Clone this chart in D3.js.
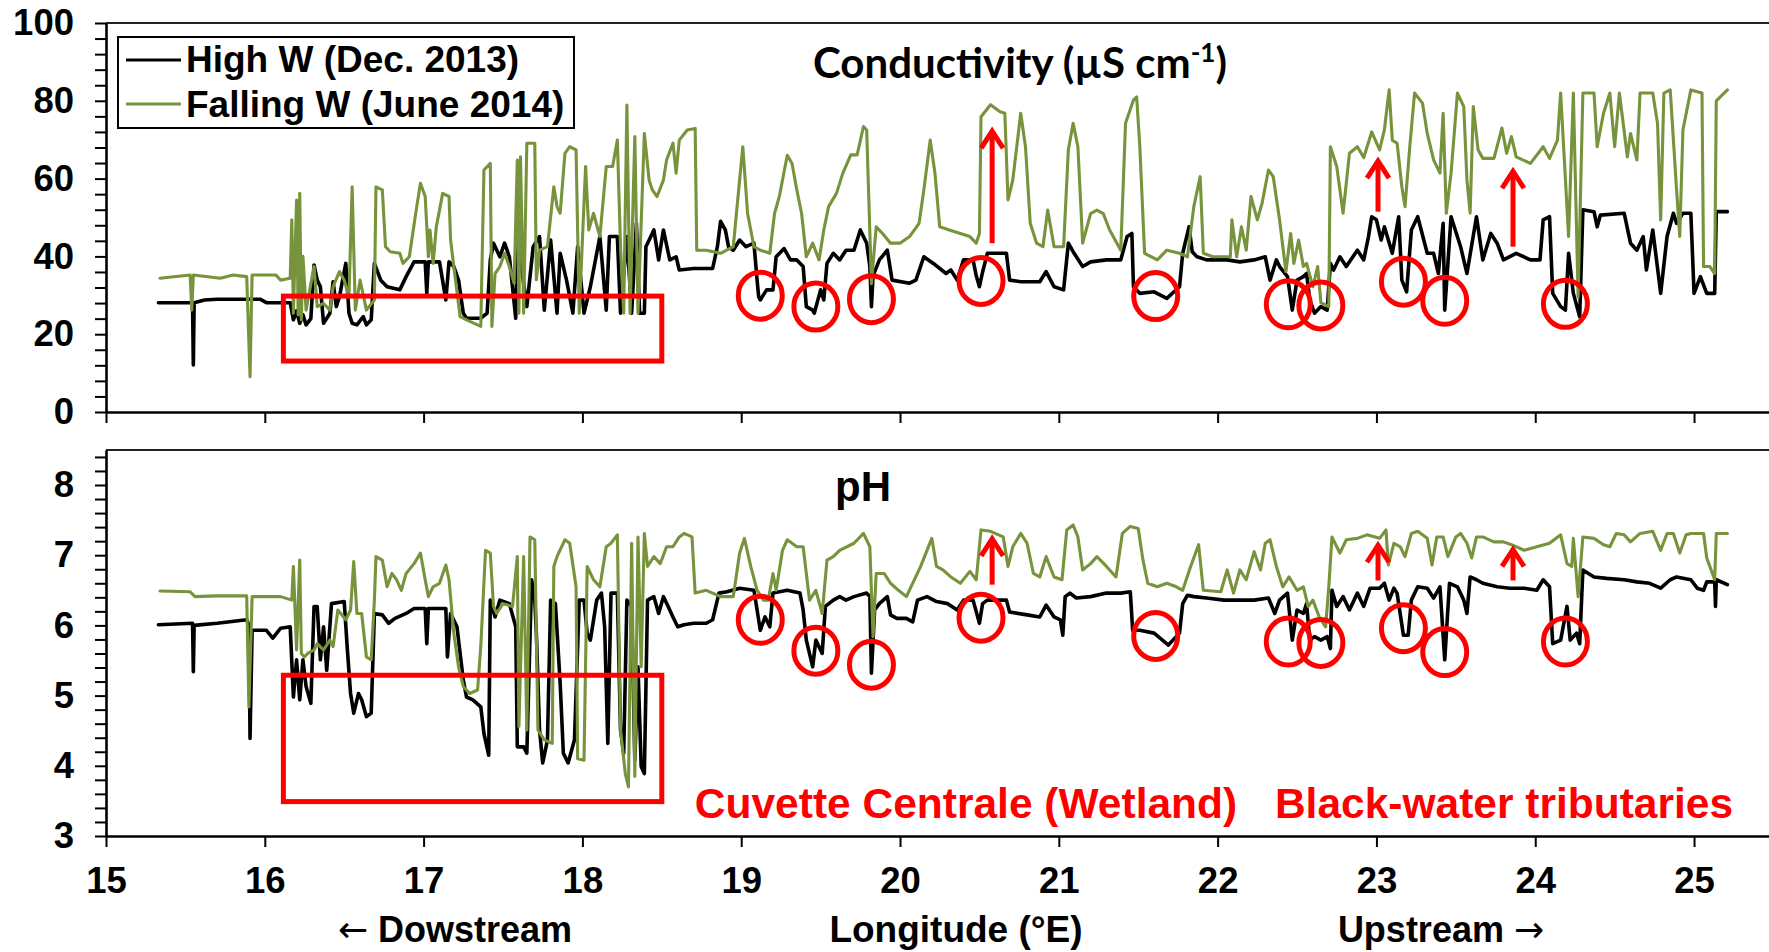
<!DOCTYPE html>
<html><head><meta charset="utf-8">
<script src="https://cdn.jsdelivr.net/npm/d3@7"></script>
<style>body{margin:0;background:#fff}svg{display:block}</style>
</head><body>
<svg id="c" width="1769" height="952"></svg>
<script>
// ---------- data ----------
const lonTicks = [15,16,17,18,19,20,21,22,23,24,25];
const condLabelTicks = [0,20,40,60,80,100];
const phLabelTicks = [3,4,5,6,7,8];
const seriesNames = ["High W (Dec. 2013)", "Falling W (June 2014)"];

const condHigh = [[15.33,28.1],[15.545,28.1],[15.55,12.1],[15.555,28.1],[15.62,28.8],[15.70,29],[15.97,29],[16.01,28.1],[16.16,28.1],[16.18,23.7],[16.20,26],[16.22,22.8],[16.24,25],[16.26,22.4],[16.29,24],[16.31,37.8],[16.33,33.9],[16.35,32.2],[16.37,22.8],[16.41,25.4],[16.43,33.5],[16.45,27.1],[16.47,29.6],[16.51,38.2],[16.53,25.4],[16.55,22.8],[16.58,22.4],[16.62,24.5],[16.64,22.4],[16.67,23.7],[16.69,38.2],[16.73,33.9],[16.77,32.2],[16.85,31.4],[16.89,34.8],[16.94,38.6],[17.01,38.6],[17.02,30.5],[17.03,38.6],[17.10,38.6],[17.14,28.8],[17.16,38.6],[17.19,37.4],[17.22,33.9],[17.25,25.4],[17.27,24.1],[17.36,24.1],[17.40,25.4],[17.42,39.1],[17.44,43.4],[17.48,39.9],[17.51,43.4],[17.54,39.9],[17.58,24.1],[17.59,42.5],[17.61,39],[17.65,27.1],[17.69,42.5],[17.73,45.1],[17.76,26.2],[17.80,44.2],[17.84,25.4],[17.86,40.8],[17.90,33.9],[17.94,25.4],[17.97,42.5],[18.01,25.4],[18.05,32.2],[18.11,45.1],[18.15,26.2],[18.17,45.1],[18.22,45.1],[18.24,25.4],[18.28,45.1],[18.31,25.4],[18.34,48.5],[18.36,25.4],[18.39,25.4],[18.40,42.5],[18.45,46.8],[18.48,39.1],[18.51,46.8],[18.55,39.1],[18.59,39.9],[18.61,36.5],[18.70,36.9],[18.82,36.9],[18.85,42.5],[18.87,49],[18.90,46.8],[18.92,42.5],[18.95,41.6],[18.99,44.2],[19.03,42.5],[19.08,43.4],[19.10,33.9],[19.11,29.6],[19.12,28.8],[19.16,31.4],[19.20,31.4],[19.22,39.9],[19.27,42],[19.31,39.1],[19.35,39.1],[19.39,37.4],[19.41,27.1],[19.45,26.2],[19.46,25.4],[19.50,31.4],[19.52,28.8],[19.54,38.2],[19.58,40.8],[19.62,39.1],[19.66,41.6],[19.71,41.6],[19.75,46.8],[19.79,43.4],[19.81,37.4],[19.82,27.1],[19.83,35],[19.87,39.1],[19.92,41.6],[19.95,33.9],[20.06,33.1],[20.10,33.9],[20.15,39.9],[20.21,38.2],[20.29,35.6],[20.32,36.5],[20.36,33.9],[20.40,39.1],[20.46,39.1],[20.48,35],[20.50,32.2],[20.52,36],[20.55,40.8],[20.67,40.8],[20.69,33.9],[20.76,33.5],[20.88,33.5],[20.92,36.1],[20.97,32.2],[21.03,31.4],[21.06,43.4],[21.09,41.2],[21.15,37.4],[21.20,38.6],[21.30,39.1],[21.39,39.1],[21.43,45.1],[21.46,45.9],[21.47,32.2],[21.51,30.5],[21.60,30.9],[21.68,29.2],[21.76,32.2],[21.78,40.8],[21.82,47.6],[21.84,41.2],[21.87,39.9],[21.93,39.1],[22.06,39.1],[22.14,38.6],[22.23,39.1],[22.30,39.9],[22.33,33.9],[22.37,39.1],[22.39,37.4],[22.44,34.8],[22.47,26.2],[22.50,33.9],[22.54,34.8],[22.56,35.6],[22.58,28.8],[22.61,25.4],[22.65,27.1],[22.69,26.2],[22.71,38.2],[22.73,36.5],[22.77,39.9],[22.81,37.4],[22.88,41.6],[22.92,39.1],[22.95,45.1],[22.97,50.2],[23.00,49.4],[23.03,44.2],[23.05,47.6],[23.10,40.8],[23.14,50.2],[23.16,33.9],[23.19,30.9],[23.22,46.8],[23.26,50.2],[23.32,40.8],[23.36,40.8],[23.39,35.6],[23.42,48.5],[23.43,26.2],[23.47,50.2],[23.53,42.5],[23.57,35.6],[23.63,50.2],[23.67,39.1],[23.72,45.9],[23.76,43.4],[23.80,39.1],[23.88,40.8],[23.97,39.1],[24.03,39.1],[24.05,49.4],[24.09,50.2],[24.11,30.5],[24.16,27.1],[24.19,26.2],[24.21,40.8],[24.24,30.5],[24.28,24.5],[24.30,52],[24.37,51.5],[24.39,47.6],[24.41,50.6],[24.56,51.1],[24.60,43.4],[24.64,41.6],[24.68,45.1],[24.70,36.5],[24.74,46.8],[24.79,30.5],[24.83,45.1],[24.87,51.1],[24.89,48.5],[24.93,51.1],[24.98,51.1],[25.0,30.5],[25.04,34.8],[25.08,30.5],[25.13,30.5],[25.14,51.5],[25.21,51.5]];

const condFalling = [[15.34,34.4],[15.53,35.2],[15.54,26.2],[15.55,35.2],[15.72,34.4],[15.80,35.2],[15.886,34.8],[15.907,9.1],[15.92,35.2],[16.07,35.2],[16.10,33.9],[16.16,34.4],[16.17,49.4],[16.18,25.4],[16.20,54.5],[16.21,25],[16.22,56.2],[16.23,23.7],[16.24,40],[16.26,26.2],[16.31,37.4],[16.33,27.1],[16.37,27.9],[16.41,26.2],[16.43,32.2],[16.47,36.1],[16.50,33.9],[16.53,29.6],[16.55,57.9],[16.57,26.2],[16.60,33.9],[16.64,26.2],[16.69,28.8],[16.70,57.9],[16.74,57.1],[16.76,42.5],[16.79,41.2],[16.85,40.8],[16.87,38.2],[16.91,39.9],[16.95,51],[16.98,58.8],[17.01,55.4],[17.03,39.9],[17.04,46.8],[17.06,38.2],[17.08,47.6],[17.12,56.2],[17.16,55.4],[17.17,44.2],[17.19,37.4],[17.23,24.5],[17.27,23.7],[17.36,22],[17.38,62.2],[17.42,63.9],[17.43,22],[17.45,35.6],[17.48,37.4],[17.51,40.8],[17.54,37.4],[17.57,33.1],[17.59,64.8],[17.60,25.4],[17.61,65.6],[17.63,25.4],[17.65,69.1],[17.70,69.1],[17.71,34],[17.73,41.6],[17.78,42.5],[17.82,57.9],[17.84,52.8],[17.86,51.1],[17.89,66.5],[17.92,68.2],[17.96,67.4],[17.98,25.4],[18.02,63.1],[18.04,46.8],[18.07,51.1],[18.11,45.1],[18.15,63.1],[18.19,63.1],[18.22,69.9],[18.24,42.5],[18.26,25.4],[18.28,78.9],[18.30,25.4],[18.33,70.8],[18.35,25.4],[18.39,71.6],[18.42,59.6],[18.44,57.1],[18.47,55.4],[18.51,59.6],[18.53,64.8],[18.57,69.1],[18.59,61.4],[18.61,69.9],[18.66,72.5],[18.71,72.9],[18.72,41.6],[18.78,41.6],[18.87,40.8],[18.95,42.5],[18.98,55.4],[19.01,68.2],[19.04,51.1],[19.08,42.5],[19.12,41.6],[19.18,40.8],[19.21,51.1],[19.24,55.4],[19.29,66],[19.32,63.9],[19.35,57.1],[19.38,51.1],[19.41,39.9],[19.45,43.4],[19.49,39.1],[19.52,46.8],[19.55,52.8],[19.60,56.2],[19.64,61.4],[19.69,66.1],[19.73,66.1],[19.77,73.4],[19.79,72.5],[19.82,33],[19.85,47.6],[19.89,45.9],[19.94,43.4],[20.0,43.4],[20.06,45.1],[20.12,48.5],[20.15,57.1],[20.19,69.9],[20.22,61.4],[20.25,47.6],[20.31,46.8],[20.38,45.9],[20.44,45.1],[20.48,43.4],[20.50,45.9],[20.51,75.9],[20.57,79],[20.63,77.2],[20.66,76.8],[20.68,54.5],[20.71,59.6],[20.76,76.8],[20.79,68.2],[20.82,48.5],[20.86,43.4],[20.90,42.5],[20.93,51.9],[20.97,42.5],[21.03,42.5],[21.06,67.4],[21.09,74.2],[21.12,68.2],[21.15,43.4],[21.20,51],[21.24,51.9],[21.28,51],[21.32,46.8],[21.39,41.6],[21.42,74.2],[21.47,80.2],[21.49,81],[21.51,68.2],[21.54,40.8],[21.62,39.1],[21.68,41.6],[21.76,40.8],[21.81,39.9],[21.85,52.8],[21.89,60.5],[21.91,40.8],[21.97,39.9],[22.08,39.9],[22.09,49.4],[22.12,39.9],[22.15,47.6],[22.18,41.6],[22.21,55.4],[22.25,49.4],[22.28,53.7],[22.32,62.2],[22.35,60.5],[22.39,49.4],[22.43,36.1],[22.46,45.9],[22.48,38.2],[22.51,44.2],[22.54,37.4],[22.56,38.2],[22.60,32.2],[22.63,37.4],[22.65,28.1],[22.70,27.1],[22.71,68.2],[22.75,63.1],[22.79,51.1],[22.83,66.5],[22.88,68.2],[22.92,65.4],[22.97,72],[23.02,67.4],[23.05,72.5],[23.08,82.8],[23.10,69.9],[23.13,69.1],[23.16,57.9],[23.18,52.8],[23.21,68.2],[23.24,82],[23.29,79.4],[23.32,71.6],[23.36,64.8],[23.40,61.4],[23.42,76.8],[23.44,51.1],[23.47,61.4],[23.51,82],[23.55,78.5],[23.57,59.6],[23.59,51.1],[23.61,78.5],[23.64,67.4],[23.67,65.2],[23.74,65.2],[23.79,73],[23.82,66.5],[23.85,70.8],[23.88,65.6],[23.97,63.9],[24.05,68.2],[24.09,65.2],[24.14,69.9],[24.16,82],[24.21,45.1],[24.24,82],[24.27,29.6],[24.30,82],[24.37,82],[24.39,68.2],[24.43,76.8],[24.47,82],[24.50,68.2],[24.53,82],[24.58,65.6],[24.60,71.6],[24.64,64.8],[24.66,82],[24.74,82],[24.77,74.2],[24.79,49.4],[24.81,82],[24.85,82.8],[24.89,57.1],[24.91,45.1],[24.93,72.5],[24.98,82.8],[25.05,82],[25.06,37.4],[25.10,37.4],[25.13,35.6],[25.14,80],[25.21,82.8]];

const phHigh = [[15.33,6.01],[15.545,6.03],[15.55,5.34],[15.555,6.0],[15.70,6.03],[15.886,6.08],[15.90,6.0],[15.907,4.39],[15.92,5.93],[16.01,5.93],[16.05,5.82],[16.10,5.96],[16.16,5.98],[16.18,4.98],[16.20,5.51],[16.22,4.94],[16.24,5.51],[16.26,5.13],[16.29,4.89],[16.31,6.27],[16.33,6.27],[16.35,5.51],[16.37,5.98],[16.39,5.36],[16.42,6.31],[16.50,6.34],[16.52,5.65],[16.54,5.03],[16.56,4.75],[16.59,5.03],[16.61,4.94],[16.64,4.70],[16.67,4.75],[16.69,6.17],[16.74,6.15],[16.78,6.03],[16.82,6.10],[16.89,6.17],[16.94,6.24],[17.01,6.24],[17.02,5.74],[17.03,6.24],[17.14,6.24],[17.15,5.55],[17.17,6.17],[17.21,5.98],[17.25,5.22],[17.27,4.98],[17.31,4.94],[17.36,4.84],[17.38,4.46],[17.41,4.15],[17.42,6.36],[17.45,6.12],[17.48,6.36],[17.54,6.31],[17.58,5.98],[17.59,4.27],[17.63,4.27],[17.65,4.18],[17.68,6.65],[17.70,6.36],[17.71,5.89],[17.73,4.51],[17.75,4.04],[17.78,4.37],[17.80,6.36],[17.83,6.31],[17.86,5.17],[17.88,4.18],[17.91,4.04],[17.95,4.37],[17.98,6.36],[18.01,6.36],[18.03,5.89],[18.05,5.79],[18.09,6.36],[18.12,6.46],[18.14,5.98],[18.16,4.32],[18.18,6.46],[18.22,6.46],[18.24,4.51],[18.26,4.18],[18.28,6.36],[18.31,6.27],[18.33,4.08],[18.35,5.41],[18.37,3.99],[18.39,3.89],[18.41,6.36],[18.45,6.41],[18.48,6.17],[18.51,6.41],[18.54,6.27],[18.57,6.12],[18.60,5.98],[18.64,6.01],[18.70,6.03],[18.78,6.03],[18.82,6.08],[18.86,6.46],[18.91,6.48],[18.99,6.53],[19.08,6.50],[19.10,6.22],[19.12,5.93],[19.15,6.12],[19.18,5.98],[19.20,6.46],[19.29,6.50],[19.37,6.46],[19.39,6.22],[19.41,5.79],[19.45,5.41],[19.47,5.79],[19.51,5.60],[19.53,6.27],[19.58,6.36],[19.62,6.41],[19.66,6.36],[19.71,6.41],[19.79,6.46],[19.81,6.41],[19.82,5.32],[19.84,6.22],[19.87,6.31],[19.92,6.41],[19.94,6.15],[19.98,6.10],[20.04,6.10],[20.08,6.05],[20.11,6.36],[20.17,6.41],[20.23,6.34],[20.30,6.31],[20.36,6.22],[20.40,6.36],[20.46,6.36],[20.50,6.03],[20.52,6.31],[20.55,6.36],[20.67,6.36],[20.69,6.19],[20.80,6.15],[20.88,6.12],[20.92,6.29],[20.97,6.12],[21.01,6.08],[21.025,5.86],[21.04,6.41],[21.07,6.46],[21.11,6.39],[21.20,6.41],[21.30,6.46],[21.39,6.46],[21.45,6.48],[21.465,5.93],[21.51,5.93],[21.60,5.89],[21.69,5.72],[21.76,5.89],[21.78,6.31],[21.81,6.43],[21.85,6.41],[21.93,6.39],[22.04,6.36],[22.14,6.36],[22.23,6.36],[22.32,6.39],[22.36,6.17],[22.39,6.36],[22.44,6.46],[22.47,5.79],[22.50,6.22],[22.54,6.17],[22.56,6.31],[22.58,5.79],[22.61,5.84],[22.65,5.79],[22.69,5.84],[22.71,5.67],[22.72,6.50],[22.75,6.27],[22.79,6.41],[22.83,6.22],[22.88,6.46],[22.92,6.27],[22.96,6.53],[23.02,6.53],[23.05,6.60],[23.08,6.36],[23.11,6.53],[23.13,6.46],[23.17,5.86],[23.20,5.86],[23.22,6.36],[23.26,6.55],[23.32,6.53],[23.36,6.39],[23.40,6.55],[23.43,5.51],[23.46,6.60],[23.51,6.55],[23.55,6.36],[23.57,6.17],[23.59,6.69],[23.63,6.65],[23.67,6.60],[23.76,6.55],[23.84,6.53],[23.93,6.53],[24.01,6.50],[24.05,6.65],[24.09,6.55],[24.11,5.74],[24.16,5.79],[24.20,6.27],[24.22,5.79],[24.26,5.89],[24.28,5.74],[24.30,6.79],[24.37,6.69],[24.45,6.67],[24.56,6.65],[24.64,6.62],[24.72,6.60],[24.79,6.53],[24.85,6.65],[24.89,6.69],[24.98,6.65],[25.02,6.53],[25.06,6.50],[25.08,6.62],[25.13,6.62],[25.135,6.27],[25.14,6.65],[25.21,6.58]];

const phFalling = [[15.34,6.49],[15.53,6.48],[15.56,6.41],[15.70,6.42],[15.886,6.42],[15.90,4.84],[15.92,6.41],[16.10,6.41],[16.17,6.36],[16.18,6.84],[16.20,5.65],[16.22,6.93],[16.23,5.60],[16.25,5.55],[16.27,5.60],[16.31,5.65],[16.33,5.74],[16.37,5.65],[16.41,5.79],[16.43,5.70],[16.46,6.22],[16.51,6.08],[16.54,6.22],[16.56,6.91],[16.58,6.17],[16.61,6.17],[16.64,5.55],[16.67,5.51],[16.69,6.36],[16.70,6.98],[16.74,6.93],[16.77,6.55],[16.80,6.74],[16.83,6.65],[16.86,6.50],[16.89,6.74],[16.94,6.88],[16.98,7.03],[17.01,6.65],[17.03,6.41],[17.06,6.55],[17.10,6.60],[17.14,6.86],[17.16,6.65],[17.19,5.89],[17.22,5.41],[17.25,5.13],[17.29,5.03],[17.34,5.08],[17.36,5.70],[17.39,7.07],[17.42,7.03],[17.44,6.27],[17.46,6.17],[17.50,6.31],[17.56,6.27],[17.59,6.98],[17.60,4.56],[17.63,6.98],[17.65,4.51],[17.67,7.26],[17.70,7.22],[17.72,4.51],[17.76,4.37],[17.81,4.32],[17.82,6.84],[17.84,6.98],[17.89,7.22],[17.92,7.17],[17.96,6.55],[17.97,4.10],[18.01,4.08],[18.03,6.84],[18.07,6.65],[18.11,6.55],[18.15,7.12],[18.18,7.17],[18.22,7.29],[18.24,4.51],[18.27,3.89],[18.29,3.70],[18.31,7.17],[18.33,3.85],[18.35,7.26],[18.37,5.41],[18.39,7.31],[18.41,6.84],[18.45,6.98],[18.49,6.88],[18.53,7.12],[18.57,7.12],[18.61,7.26],[18.64,7.31],[18.69,7.26],[18.71,6.46],[18.78,6.50],[18.87,6.41],[18.95,6.41],[18.99,7.03],[19.02,7.24],[19.06,6.84],[19.10,6.50],[19.14,6.36],[19.17,6.36],[19.20,6.74],[19.22,6.50],[19.26,7.07],[19.29,7.22],[19.35,7.12],[19.39,7.12],[19.43,6.36],[19.47,6.50],[19.51,6.17],[19.54,6.93],[19.58,6.98],[19.62,7.07],[19.71,7.17],[19.77,7.31],[19.81,7.12],[19.83,5.84],[19.85,6.74],[19.90,6.74],[19.94,6.60],[19.99,6.50],[20.04,6.41],[20.13,6.84],[20.20,7.24],[20.23,6.84],[20.27,6.79],[20.32,6.69],[20.38,6.60],[20.44,6.77],[20.48,6.65],[20.51,7.36],[20.57,7.34],[20.65,7.26],[20.68,6.84],[20.71,7.12],[20.76,7.31],[20.80,7.17],[20.84,6.74],[20.88,6.69],[20.92,6.98],[20.97,6.69],[21.02,6.65],[21.05,7.36],[21.09,7.43],[21.12,7.26],[21.15,6.79],[21.20,6.88],[21.24,6.98],[21.30,6.84],[21.36,6.69],[21.40,7.31],[21.45,7.41],[21.50,7.38],[21.53,6.93],[21.56,6.60],[21.62,6.55],[21.68,6.60],[21.74,6.55],[21.78,6.50],[21.83,6.84],[21.88,7.15],[21.91,6.50],[22.02,6.48],[22.06,6.79],[22.10,6.46],[22.14,6.79],[22.18,6.65],[22.23,7.05],[22.27,6.79],[22.30,7.17],[22.33,7.22],[22.37,6.84],[22.41,6.55],[22.45,6.69],[22.50,6.50],[22.54,6.55],[22.57,6.27],[22.60,6.36],[22.64,6.12],[22.68,5.98],[22.70,6.55],[22.72,7.26],[22.77,7.03],[22.81,7.22],[22.88,7.24],[22.94,7.29],[23.02,7.24],[23.06,7.36],[23.075,6.86],[23.11,7.17],[23.15,7.12],[23.18,6.98],[23.22,7.31],[23.26,7.34],[23.32,7.24],[23.35,6.86],[23.38,7.26],[23.42,7.26],[23.45,6.98],[23.50,7.26],[23.53,7.31],[23.57,7.17],[23.60,6.96],[23.63,7.26],[23.67,7.26],[23.74,7.19],[23.80,7.19],[23.85,7.15],[23.93,7.07],[24.01,7.12],[24.09,7.17],[24.16,7.29],[24.20,6.88],[24.23,6.84],[24.24,7.24],[24.27,6.41],[24.30,7.26],[24.37,7.24],[24.43,7.15],[24.47,7.12],[24.51,7.31],[24.56,7.29],[24.60,7.19],[24.66,7.31],[24.74,7.34],[24.79,7.07],[24.83,7.31],[24.87,7.31],[24.91,7.03],[24.95,7.29],[24.98,7.31],[25.06,7.31],[25.08,6.96],[25.13,6.65],[25.14,7.31],[25.21,7.31]];

// annotations (data coordinates)
const circleLon  = [19.12, 19.47, 19.82, 20.51, 21.61, 22.445, 22.65, 23.17, 23.43, 24.19];
const circleCond = [29.9, 27.1, 29.0, 33.7, 29.8, 27.7, 27.4, 33.5, 28.6, 27.8];
const circlePH   = [6.08, 5.64, 5.44, 6.11, 5.85, 5.77, 5.75, 5.96, 5.62, 5.77];
const arrowLon      = [20.58, 23.01, 23.86];
const arrowCondFrom = [43.4, 51.5, 42.5];
const arrowCondTo   = [72.7, 65.0, 62.4];
const arrowPHFrom   = [6.58, 6.64, 6.64];
const arrowPHTo     = [7.26, 7.17, 7.11];
const boxLon  = [16.117, 18.50];
const boxCond = [13.1, 29.8];
const boxPH   = [3.49, 5.29];

// ---------- drawing ----------
const W = 1769;
const GREEN = "#77933C", RED = "#FF0000";
const FONT = "'Liberation Sans', Arial, Helvetica, sans-serif";
const svg = d3.select("#c");

const x  = d3.scaleLinear().domain([15, 25.472]).range([106, 1769]);
const yC = d3.scaleLinear().domain([0, 100]).range([412, 23]);
const yP = d3.scaleLinear().domain([3, 8.5]).range([836, 449.9]);

const condMinor = d3.range(0, 101, 4);
const phMinor = d3.range(30, 86, 2).map(v => v / 10);

function isIn(list, d){ return list.some(v => Math.abs(v - d) < 1e-6); }

function frame(y, minor, labels, showX) {
  svg.append("line").attr("x1", x.range()[0]).attr("x2", W)
    .attr("y1", y.range()[1]).attr("y2", y.range()[1])
    .attr("stroke", "#222").attr("stroke-width", 2);
  const gy = svg.append("g").attr("transform", `translate(${x.range()[0]},0)`)
    .call(d3.axisLeft(y).tickValues(minor).tickSize(11).tickSizeOuter(0).tickPadding(21)
      .tickFormat(d => isIn(labels, d) ? d3.format("d")(d) : ""));
  const gx = svg.append("g").attr("transform", `translate(0,${y.range()[0]})`)
    .call(d3.axisBottom(x).tickValues(lonTicks).tickSize(11).tickSizeOuter(0).tickPadding(20)
      .tickFormat(showX ? d3.format("d") : () => ""));
  [gy, gx].forEach(g => {
    g.select("path.domain").attr("stroke", "#000").attr("stroke-width", 2.6);
    g.selectAll(".tick line").attr("stroke", "#000").attr("stroke-width", 2);
    g.selectAll("text").attr("font-family", FONT).attr("font-weight", "bold")
      .attr("font-size", 36.5).attr("fill", "#000");
  });
}
frame(yC, condMinor, condLabelTicks, false);
frame(yP, phMinor, phLabelTicks, true);

function drawLine(data, y, color, w) {
  svg.append("path").datum(data)
    .attr("d", d3.line().x(d => x(d[0])).y(d => y(d[1])))
    .attr("fill", "none").attr("stroke", color).attr("stroke-width", w)
    .attr("stroke-linejoin", "round").attr("stroke-linecap", "round");
}
drawLine(condHigh, yC, "#000", 3.6);
drawLine(condFalling, yC, GREEN, 3.1);
drawLine(phHigh, yP, "#000", 3.6);
drawLine(phFalling, yP, GREEN, 3.1);

// red rectangles
[[yC, boxCond], [yP, boxPH]].forEach(([y, b]) => {
  svg.append("rect").attr("x", x(boxLon[0])).attr("y", y(b[1]))
    .attr("width", x(boxLon[1]) - x(boxLon[0])).attr("height", y(b[0]) - y(b[1]))
    .attr("fill", "none").attr("stroke", RED).attr("stroke-width", 5);
});

// red circles
[[yC, circleCond], [yP, circlePH]].forEach(([y, vals]) => {
  svg.selectAll(null).data(circleLon.map((l, i) => [l, vals[i]])).enter()
    .append("ellipse").attr("cx", d => x(d[0])).attr("cy", d => y(d[1]))
    .attr("rx", 22).attr("ry", 23.5)
    .attr("fill", "none").attr("stroke", RED).attr("stroke-width", 5);
});

// red arrows
function arrows(y, from, to) {
  arrowLon.forEach((l, i) => {
    const ax = x(l), y0 = y(from[i]), y1 = y(to[i]);
    svg.append("line").attr("x1", ax).attr("x2", ax).attr("y1", y0).attr("y2", y1 + 2)
      .attr("stroke", RED).attr("stroke-width", 5);
    svg.append("path").attr("d", `M${ax - 11},${y1 + 19}L${ax},${y1 + 2}L${ax + 11},${y1 + 19}`)
      .attr("fill", "none").attr("stroke", RED).attr("stroke-width", 5);
  });
}
arrows(yC, arrowCondFrom, arrowCondTo);
arrows(yP, arrowPHFrom, arrowPHTo);

// legend
svg.append("rect").attr("x", 118).attr("y", 37).attr("width", 456).attr("height", 91)
  .attr("fill", "#fff").attr("stroke", "#000").attr("stroke-width", 2);
[["#000", 60, 72, seriesNames[0]], [GREEN, 104, 117, seriesNames[1]]].forEach(([c, ly, ty, t]) => {
  svg.append("line").attr("x1", 126).attr("x2", 181).attr("y1", ly).attr("y2", ly)
    .attr("stroke", c).attr("stroke-width", 3);
  svg.append("text").attr("x", 186).attr("y", ty).text(t)
    .attr("font-family", FONT).attr("font-weight", "bold").attr("font-size", 37);
});

// titles
const title = svg.append("text").attr("x", 1020).attr("y", 78).attr("text-anchor", "middle")
  .attr("font-family", "Lato, 'Open Sans', sans-serif").attr("font-weight", "bold").attr("font-size", 42);
title.append("tspan").text("Conductivity (µS cm");
title.append("tspan").text("-1").attr("font-size", 26).attr("dy", -16);
title.append("tspan").text(")").attr("dy", 16);

svg.append("text").attr("x", 863).attr("y", 501).attr("text-anchor", "middle")
  .attr("font-family", FONT).attr("font-weight", "bold").attr("font-size", 42).text("pH");

svg.append("text").attr("x", 966).attr("y", 818).attr("text-anchor", "middle")
  .attr("font-family", FONT).attr("font-weight", "bold").attr("font-size", 42.5).attr("fill", RED)
  .text("Cuvette Centrale (Wetland)");
svg.append("text").attr("x", 1504).attr("y", 818).attr("text-anchor", "middle")
  .attr("font-family", FONT).attr("font-weight", "bold").attr("font-size", 42.5).attr("fill", RED)
  .text("Black-water tributaries");

// bottom labels
const ARROWFONT = "'DejaVu Sans', sans-serif";
const lab1 = svg.append("text").attr("x", 455).attr("y", 942).attr("text-anchor", "middle")
  .attr("font-family", FONT).attr("font-weight", "bold").attr("font-size", 36);
lab1.append("tspan").attr("font-family", ARROWFONT).attr("font-weight", "normal").text("←");
lab1.append("tspan").text(" Dowstream");
svg.append("text").attr("x", 956).attr("y", 942).attr("text-anchor", "middle")
  .attr("font-family", FONT).attr("font-weight", "bold").attr("font-size", 37).text("Longitude (°E)");
const lab3 = svg.append("text").attr("x", 1441).attr("y", 942).attr("text-anchor", "middle")
  .attr("font-family", FONT).attr("font-weight", "bold").attr("font-size", 36);
lab3.append("tspan").text("Upstream ");
lab3.append("tspan").attr("font-family", ARROWFONT).attr("font-weight", "normal").text("→");
</script>
</body></html>
